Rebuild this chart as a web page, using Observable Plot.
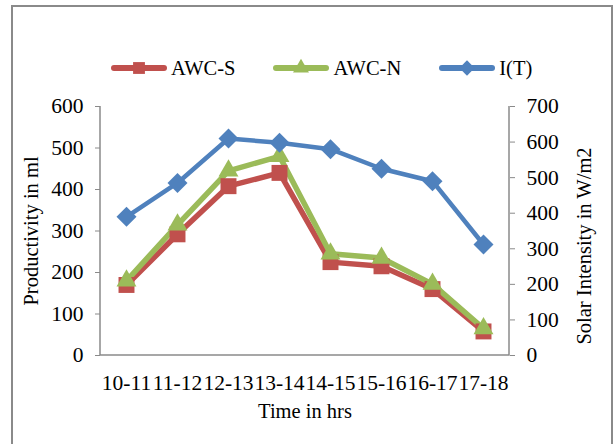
<!DOCTYPE html>
<html>
<head>
<meta charset="utf-8">
<script src="https://cdn.jsdelivr.net/npm/d3@7"></script>
<script src="https://cdn.jsdelivr.net/npm/@observablehq/plot@0.6"></script>
<style>
  html, body { margin: 0; padding: 0; background: #fff; }
  #chart {
    position: relative; width: 613px; height: 444px; overflow: hidden;
    font-family: "Liberation Serif", "Times New Roman", serif; color: #000;
  }
  #frame {
    position: absolute; left: 11px; top: 5px; width: 602px; height: 470px;
    box-sizing: border-box; border: 2px solid #8a8a8a; pointer-events: none;
  }
  #legend {
    position: relative; height: 90px; box-sizing: border-box;
    padding-top: 56px; padding-left: 111px;
    display: flex; align-items: flex-start; font-size: 20.5px;
  }
  .item { display: flex; align-items: center; height: 24px; margin-right: 38px; }
  .item svg { display: block; margin-right: 4px; }
  #plot svg { display: block; }
</style>
</head>
<body>
<div id="chart">
  <div id="frame"></div>
  <div id="legend"></div>
  <div id="plot"></div>
</div>
<script>
// Hourly time slots
const slots = ["10-11", "11-12", "12-13", "13-14", "14-15", "15-16", "16-17", "17-18"];
// Productivity (ml) of the two still variants
const awcS = [170, 292, 408, 440, 225, 215, 160, 58];
const awcN = [180, 315, 445, 480, 245, 235, 172, 65];
// Solar intensity (W/m2), read on the right-hand axis
const intensity = [390, 485, 610, 598, 580, 525, 490, 312];

const leftTicks = [0, 100, 200, 300, 400, 500, 600];
const rightTicks = [0, 100, 200, 300, 400, 500, 600, 700];
const leftMax = 600, rightMax = 700;
const toLeft = v => v * leftMax / rightMax;   // right-axis units -> left-axis units

const series = [
  {name: "AWC-S", values: awcS, color: "#C0504D", symbol: "square", r: 9, width: 5.5, right: false},
  {name: "AWC-N", values: awcN, color: "#9BBB59", symbol: "triangle", r: 7.4, width: 5.5, right: false},
  {name: "I(T)", values: intensity, color: "#4F81BD", symbol: "diamond2", r: 9, width: 4.5, right: true}
];

const rows = series.flatMap(s => slots.map((slot, i) => ({
  series: s.name, slot, value: s.values[i], y: s.right ? toLeft(s.values[i]) : s.values[i]
})));

const axisColor = "#8a8a8a";
const fs = 20.5;      // titles
const tfs = 21.5;     // tick labels

// Axis lines: left, right and baseline
function axisLines(index, {y}, values, {width, marginLeft, marginRight}) {
  const g = d3.create("svg:g").attr("stroke", axisColor).attr("stroke-width", 1.5).attr("fill", "none");
  const xl = marginLeft, xr = width - marginRight;
  g.append("path").attr("d", `M${xl},${y(leftMax)}V${y(0)}H${xr}V${y(leftMax)}`);
  return g.node();
}

const marks = [
  axisLines,
  Plot.axisY(leftTicks, {anchor: "left", tickSize: 5, tickPadding: 12, label: null, stroke: axisColor, fill: "#000", fontSize: tfs}),
  Plot.axisY(rightTicks.map(toLeft), {anchor: "right", tickSize: 5, tickPadding: 12, label: null, stroke: axisColor, fill: "#000", fontSize: tfs,
    tickFormat: d => String(Math.round(d * rightMax / leftMax))}),
  Plot.axisX({tickSize: 0, tickPadding: 19, label: null, fill: "#000", fontSize: tfs})
];

for (const s of series) {
  const data = rows.filter(d => d.series === s.name);
  marks.push(Plot.line(data, {x: "slot", y: "y", stroke: s.color, strokeWidth: s.width, strokeLinejoin: "round", strokeLinecap: "round"}));
}
for (const s of series) {
  const data = rows.filter(d => d.series === s.name);
  marks.push(Plot.dot(data, {x: "slot", y: "y", fill: s.color, stroke: "none", symbol: s.symbol, r: s.r}));
}

marks.push(
  Plot.text(["Productivity in ml"], {text: d => d, frameAnchor: "left", textAnchor: "middle", rotate: -90, dx: -69, fontSize: fs, fill: "#000"}),
  Plot.text(["Solar Intensity in W/m2"], {text: d => d, frameAnchor: "right", textAnchor: "middle", rotate: -90, dx: 75, dy: 15, fontSize: fs, fill: "#000"}),
  Plot.text(["Time in hrs"], {text: d => d, frameAnchor: "bottom", textAnchor: "middle", dy: 62, fontSize: fs, fill: "#000"})
);

const chart = Plot.plot({
  width: 613,
  height: 354,
  marginTop: 16,
  marginBottom: 89,
  marginLeft: 100,
  marginRight: 104,
  style: {fontFamily: "Liberation Serif, Times New Roman, serif", fontSize: fs + "px", background: "transparent", color: "#000"},
  x: {type: "point", domain: slots, padding: 0.5},
  y: {domain: [0, leftMax]},
  marks
});
document.getElementById("plot").append(chart);

// Legend: line swatch with marker, then the series name
const legend = d3.select("#legend");
for (const s of series) {
  const item = legend.append("div").attr("class", "item");
  const sw = item.append("svg").attr("width", 56).attr("height", 24);
  sw.append("line").attr("x1", 3).attr("x2", 53).attr("y1", 12).attr("y2", 12)
    .attr("stroke", s.color).attr("stroke-width", 6).attr("stroke-linecap", "round");
  const sym = {square: d3.symbolSquare, triangle: d3.symbolTriangle, diamond2: d3.symbolDiamond2}[s.symbol];
  const size = {square: 140, triangle: 110, diamond2: 150}[s.symbol];
  sw.append("path").attr("transform", "translate(28,12)").attr("d", d3.symbol(sym, size)()).attr("fill", s.color);
  item.append("span").text(s.name);
}
</script>
</body>
</html>
